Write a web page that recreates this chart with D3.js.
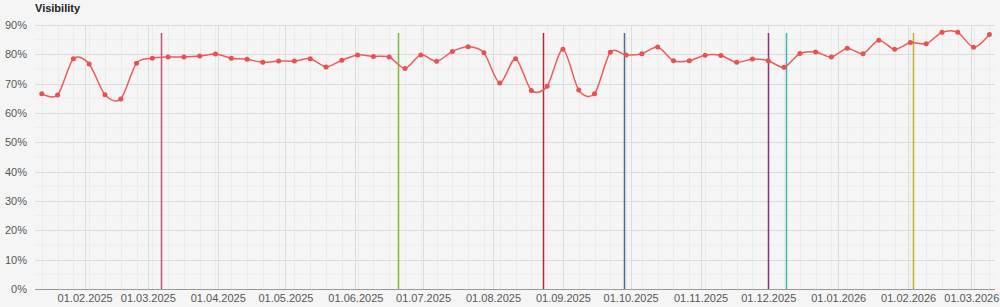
<!DOCTYPE html>
<html><head><meta charset="utf-8">
<script src="https://cdn.jsdelivr.net/npm/d3@7/dist/d3.min.js"></script>
<style>
html,body{margin:0;padding:0;background:#f5f5f5;}
svg{display:block;font-family:"Liberation Sans",Arial,sans-serif;}
</style></head><body>
<svg id="c" width="1000" height="307"></svg>
<script>
const startDate = "2025-01-13";
const values = [66.6,66.1,78.5,76.7,66.2,64.8,77.0,78.7,79.1,79.1,79.4,80.1,78.7,78.3,77.3,77.7,
77.7,78.5,75.7,78.0,79.8,79.3,79.1,75.2,79.8,77.6,81.0,82.6,80.5,70.2,78.5,
67.7,69.1,81.7,67.8,66.6,80.7,79.8,80.2,82.5,77.8,77.8,79.7,79.6,77.3,78.4,
77.8,75.6,80.3,80.8,79.1,82.1,80.2,84.8,81.7,84.0,83.6,87.5,87.5,82.4,86.8];
const yTicks = [0,10,20,30,40,50,60,70,80,90];
const xTickDates = ["2025-02-01","2025-03-01","2025-04-01","2025-05-01","2025-06-01","2025-07-01","2025-08-01","2025-09-01","2025-10-01","2025-11-01","2025-12-01","2026-01-01","2026-02-01","2026-03-01"];
const eventDates = ["2025-03-07","2025-06-20","2025-08-23","2025-09-28","2025-12-01","2025-12-09","2026-02-03"];
const eventColors = ["#cf4a78","#7cb83a","#b8282e","#4a6a98","#8a2f86","#3fb5b0","#c5b020"];

const svg = d3.select("#c");
const L = 35, R = 995, T = 25, B = 289;
const parse = d3.utcParse("%Y-%m-%d");
const fmt = d3.utcFormat("%d.%m.%Y");
const t0 = parse(startDate);
const data = values.map((v,i)=>({d:d3.utcDay.offset(t0, i*7), v}));

const x = d3.scaleUtc().domain([d3.utcHour.offset(parse("2025-01-10"), 0), d3.utcHour.offset(parse("2026-03-11"), 12)]).range([L, R]);
const y = d3.scaleLinear().domain([0,90]).range([B, T]);

// minor horizontal grid
svg.append("g").selectAll("line").data(d3.range(5,90,10)).join("line")
  .attr("x1",L).attr("x2",R).attr("y1",d=>y(d)).attr("y2",d=>y(d))
  .attr("stroke","#ececec").attr("stroke-width",1);
// minor vertical grid (weekly)
svg.append("g").selectAll("line").data(data).join("line")
  .attr("x1",d=>Math.round(x(d.d))+0.5).attr("x2",d=>Math.round(x(d.d))+0.5).attr("y1",T).attr("y2",B)
  .attr("stroke","#ebebeb").attr("stroke-width",1);
// major grid
svg.append("g").selectAll("line").data(yTicks.filter(d=>d>0)).join("line")
  .attr("x1",L).attr("x2",R).attr("y1",d=>Math.round(y(d))+0.5).attr("y2",d=>Math.round(y(d))+0.5)
  .attr("stroke","#dcdcdc").attr("stroke-width",1);
svg.append("g").selectAll("line").data(xTickDates.map(parse)).join("line")
  .attr("x1",d=>Math.round(x(d))+0.5).attr("x2",d=>Math.round(x(d))+0.5).attr("y1",T).attr("y2",B)
  .attr("stroke","#dcdcdc").attr("stroke-width",1);

// axes
const yAxis = d3.axisLeft(y).tickValues(yTicks).tickFormat(d=>d+"%").tickSize(0).tickPadding(8);
const gy = svg.append("g").attr("transform",`translate(${L},0)`).call(yAxis);
gy.select(".domain").remove();
gy.selectAll("text").attr("font-size",11).attr("fill","#555").attr("font-family","Liberation Sans, Arial, sans-serif");

const xAxis = d3.axisBottom(x).tickValues(xTickDates.map(parse)).tickFormat(fmt).tickSize(0).tickPadding(5);
const gx = svg.append("g").attr("transform",`translate(0,${B})`).call(xAxis);
gx.select(".domain").remove();
gx.selectAll("text").attr("font-size",11).attr("fill","#555").attr("font-family","Liberation Sans, Arial, sans-serif");
svg.append("line").attr("x1",L).attr("x2",R).attr("y1",B+0.5).attr("y2",B+0.5).attr("stroke","#999");

// event lines
svg.append("g").selectAll("line").data(eventDates.map((d,i)=>({d:parse(d),c:eventColors[i]}))).join("line")
  .attr("x1",d=>Math.round(x(d.d))+0.5).attr("x2",d=>Math.round(x(d.d))+0.5)
  .attr("y1",33).attr("y2",B).attr("stroke",d=>d.c).attr("stroke-width",1.5);

// series
const line = d3.line().x(d=>x(d.d)).y(d=>y(d.v)).curve(d3.curveCardinal.tension(0.15));
svg.append("path").datum(data).attr("d",line).attr("fill","none").attr("stroke","#f05a5a").attr("stroke-width",1.5);
svg.append("g").selectAll("circle").data(data).join("circle")
  .attr("cx",d=>x(d.d)).attr("cy",d=>y(d.v)).attr("r",2.5).attr("fill","#eb4f50");

// title
svg.append("text").attr("x",35).attr("y",12).text("Visibility")
  .attr("font-size",11).attr("font-weight","bold").attr("fill","#222");
</script>
</body></html>
